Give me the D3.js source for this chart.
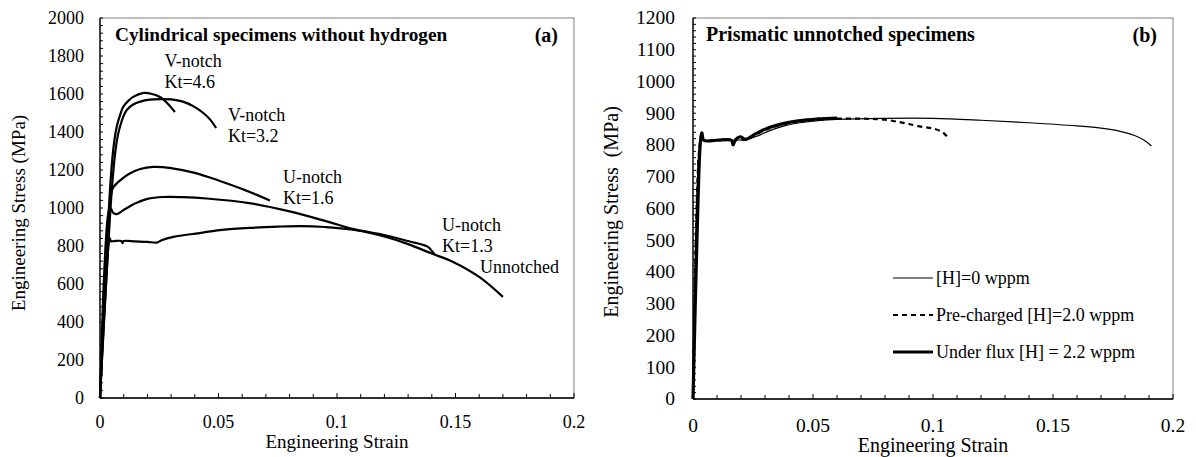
<!DOCTYPE html>
<html>
<head>
<meta charset="utf-8">
<script src="https://cdn.jsdelivr.net/npm/d3@7"></script>
<style>
  html, body { margin: 0; padding: 0; background: #fff; }
  svg { display: block; }
  svg text { font-family: "Liberation Serif", "Times New Roman", "DejaVu Serif", serif; fill: #000; }
</style>
</head>
<body>
<svg id="chart" width="1196" height="457" font-family="Liberation Serif, serif"></svg>
<script>
// ---- panel (a): cylindrical specimens without hydrogen ----
const vKt46Strain = [0, 0.0045, 0.006, 0.0071, 0.0085, 0.0098, 0.012, 0.014, 0.018, 0.022, 0.0253, 0.0285, 0.0316];
const vKt46Stress = [0, 1150, 1350, 1430, 1490, 1532, 1565, 1585, 1605, 1600, 1584, 1550, 1505];

const vKt32Strain = [0, 0.005, 0.0065, 0.0075, 0.0084, 0.0098, 0.0113, 0.014, 0.017, 0.021, 0.0253, 0.030, 0.035, 0.0395, 0.0436, 0.0465, 0.049];
const vKt32Stress = [0, 1100, 1300, 1380, 1426, 1480, 1516, 1545, 1560, 1570, 1573, 1572, 1560, 1535, 1500, 1465, 1421];

const uKt16Strain = [0, 0.0048, 0.0056, 0.008, 0.012, 0.017, 0.0224, 0.03, 0.04, 0.05, 0.06, 0.0717];
const uKt16Stress = [0, 1080, 1108, 1140, 1178, 1205, 1216, 1210, 1185, 1145, 1100, 1040];

const uKt13Strain = [0, 0.0038, 0.0045, 0.0055, 0.0071, 0.01, 0.015, 0.02, 0.0267, 0.035, 0.045, 0.063, 0.08, 0.095, 0.108, 0.12, 0.13, 0.138, 0.1395, 0.1412];
const uKt13Stress = [0, 990, 1000, 975, 968, 990, 1025, 1048, 1058, 1057, 1050, 1026, 982, 932, 886, 858, 826, 798, 782, 756];

const unnotchedStrain = [0, 0.0042, 0.0046, 0.006, 0.009, 0.0095, 0.01, 0.015, 0.02, 0.024, 0.026, 0.031, 0.042, 0.0506, 0.063, 0.075, 0.085, 0.095, 0.108, 0.12, 0.13, 0.14, 0.149, 0.16, 0.17];
const unnotchedStress = [0, 840, 825, 826, 826, 815, 826, 824, 822, 818, 830, 848, 868, 884, 895, 902, 905, 900, 884, 850, 810, 760, 716, 637, 532];

const curveLabelsA = [
  { lines: ["V-notch", "Kt=4.6"], strain: 0.0272, stress: 1740 },
  { lines: ["V-notch", "Kt=3.2"], strain: 0.054, stress: 1460 },
  { lines: ["U-notch", "Kt=1.6"], strain: 0.0772, stress: 1130 },
  { lines: ["U-notch", "Kt=1.3"], strain: 0.1443, stress: 880 },
];
const unnotchedLabel = { text: "Unnotched", strain: 0.1603, stress: 660 };

const xTicksA = [0, 0.05, 0.1, 0.15, 0.2];
const yTicksA = [0, 200, 400, 600, 800, 1000, 1200, 1400, 1600, 1800, 2000];

// ---- panel (b): prismatic unnotched specimens ----
const h0Strain = [0, 0.0025, 0.0037, 0.0045, 0.01, 0.016, 0.0167, 0.018, 0.022, 0.026, 0.031, 0.038, 0.0446, 0.052, 0.06, 0.08, 0.1, 0.12, 0.14, 0.16, 0.17, 0.178, 0.184, 0.188, 0.191];
const h0Stress = [0, 780, 835, 815, 815, 814, 808, 815, 816, 826, 842, 860, 870, 877, 881, 884, 884, 878, 870, 860, 853, 843, 830, 815, 797];

const preStrain = [0, 0.0025, 0.0037, 0.0045, 0.01, 0.016, 0.0167, 0.018, 0.022, 0.026, 0.031, 0.038, 0.0446, 0.052, 0.06, 0.07, 0.075, 0.08, 0.086, 0.09, 0.095, 0.1, 0.104, 0.106];
const preStress = [0, 780, 835, 815, 815, 815, 802, 815, 818, 832, 850, 866, 875, 880, 883, 883, 882, 880, 872, 866, 858, 852, 840, 825];

const fluxStrain = [0, 0.002, 0.003, 0.0037, 0.0045, 0.01, 0.016, 0.0167, 0.0175, 0.0196, 0.022, 0.026, 0.031, 0.038, 0.0446, 0.052, 0.06];
const fluxStress = [0, 600, 800, 838, 815, 815, 815, 800, 815, 826, 818, 835, 853, 868, 877, 882, 885];

const legendLabelsB = ["[H]=0 wppm", "Pre-charged [H]=2.0 wppm", "Under flux [H] = 2.2 wppm"];

const xTicksB = [0, 0.05, 0.1, 0.15, 0.2];
const yTicksB = [0, 100, 200, 300, 400, 500, 600, 700, 800, 900, 1000, 1100, 1200];

const SERIF = "'Liberation Serif', 'Times New Roman', serif";
const zip = (xs, ys) => xs.map((x, i) => [x, ys[i]]);

const svg = d3.select("#chart");
svg.append("rect").attr("width", 1196).attr("height", 457).attr("fill", "#fff");

function txt(sel) {
  return sel.append("text").attr("font-family", SERIF).style("font-family", SERIF);
}

function drawPanel(opts) {
  const { left, right, top, bottom, yMax, yMinorStep, tickFont, titleFont } = opts;
  const x = d3.scaleLinear().domain([0, 0.2]).range([left, right]);
  const y = d3.scaleLinear().domain([0, yMax]).range([bottom, top]);
  const g = svg.append("g");

  // frame
  g.append("rect")
    .attr("x", left).attr("y", top)
    .attr("width", right - left).attr("height", bottom - top)
    .attr("fill", "none").attr("stroke", "#7f7f7f").attr("stroke-width", 1);

  // minor + major ticks (inward)
  const xMinor = d3.range(0, 0.2001, 0.01);
  const yMinor = d3.range(0, yMax + 0.1, yMinorStep);
  const ticks = g.append("g").attr("stroke", "#000").attr("stroke-width", 1);
  xMinor.forEach(v => {
    const major = Math.abs(v / 0.05 - Math.round(v / 0.05)) < 1e-6;
    ticks.append("line")
      .attr("x1", x(v)).attr("x2", x(v))
      .attr("y1", bottom).attr("y2", bottom - (major ? 5 : 4));
  });
  yMinor.forEach(v => {
    ticks.append("line")
      .attr("x1", left).attr("x2", left + 3)
      .attr("y1", y(v)).attr("y2", y(v));
  });
  // bottom and left axis lines
  g.append("line").attr("x1", left).attr("x2", right).attr("y1", bottom).attr("y2", bottom)
    .attr("stroke", "#000").attr("stroke-width", 1.3);
  g.append("line").attr("x1", left).attr("x2", left).attr("y1", top).attr("y2", bottom)
    .attr("stroke", "#000").attr("stroke-width", 1.3);

  // tick labels
  opts.xTicks.forEach(d => {
    txt(g).attr("x", x(d)).attr("y", bottom + opts.xLabelDy)
      .attr("text-anchor", "middle").style("font-size", tickFont + "px")
      .text(d3.format("")(d));
  });
  opts.yTicks.forEach(d => {
    txt(g).attr("x", left - opts.yLabelDx).attr("y", y(d) + tickFont * 0.33)
      .attr("text-anchor", "end").style("font-size", tickFont + "px")
      .text(d);
  });

  // axis titles
  txt(g).attr("x", (left + right) / 2).attr("y", opts.xTitleY)
    .attr("text-anchor", "middle").style("font-size", titleFont + "px")
    .text("Engineering Strain");
  txt(g).attr("transform", `translate(${opts.yTitleX},${opts.yTitleMid}) rotate(-90)`)
    .attr("text-anchor", "middle").style("font-size", titleFont + "px")
    .style("white-space", "pre")
    .text(opts.yTitle);

  // panel heading and tag
  txt(g).attr("x", left + opts.headDx).attr("y", top + 23)
    .style("font-size", opts.headFont + "px").style("font-weight", "bold")
    .text(opts.heading);
  txt(g).attr("x", right - 16).attr("y", top + 24)
    .attr("text-anchor", "end")
    .style("font-size", "20px").style("font-weight", "bold")
    .text(opts.tag);

  return { x, y, g };
}

// panel (a)
const A = drawPanel({
  left: 100, right: 574, top: 18, bottom: 398, yMax: 2000, yMinorStep: 40,
  tickFont: 18, titleFont: 19, xTicks: xTicksA, yTicks: yTicksA,
  xLabelDy: 30, yLabelDx: 16, xTitleY: 448, yTitleX: 25, yTitleMid: 213,
  yTitle: "Engineering Stress (MPa)",
  heading: "Cylindrical specimens without hydrogen", headDx: 15, headFont: 19.3, tag: "(a)",
});
const lineA = d3.line().x(d => A.x(d[0])).y(d => A.y(d[1])).curve(d3.curveCatmullRom.alpha(0.5));
[
  zip(unnotchedStrain, unnotchedStress),
  zip(uKt13Strain, uKt13Stress),
  zip(uKt16Strain, uKt16Stress),
  zip(vKt32Strain, vKt32Stress),
  zip(vKt46Strain, vKt46Stress),
].forEach(pts => {
  A.g.append("path").attr("d", lineA(pts))
    .attr("fill", "none").attr("stroke", "#000").attr("stroke-width", 2.2)
    .attr("stroke-linejoin", "round");
});
curveLabelsA.forEach(l => {
  const t = txt(A.g).style("font-size", "18px");
  l.lines.forEach((s, i) => {
    t.append("tspan").attr("x", A.x(l.strain)).attr("y", A.y(l.stress) + i * 21).text(s);
  });
});
txt(A.g)
  .attr("x", A.x(unnotchedLabel.strain)).attr("y", A.y(unnotchedLabel.stress))
  .style("font-size", "18px").text(unnotchedLabel.text);

// panel (b)
const B = drawPanel({
  left: 693, right: 1173, top: 18, bottom: 399, yMax: 1200, yMinorStep: 20,
  tickFont: 19.5, titleFont: 20, xTicks: xTicksB, yTicks: yTicksB,
  xLabelDy: 33, yLabelDx: 18, xTitleY: 452, yTitleX: 618, yTitleMid: 212,
  yTitle: "Engineering Stress  (MPa)",
  heading: "Prismatic unnotched specimens", headDx: 13, headFont: 20, tag: "(b)",
});
const lineB = d3.line().x(d => B.x(d[0])).y(d => B.y(d[1])).curve(d3.curveCatmullRom.alpha(0.5));
const stylesB = [
  { w: 1.2, dash: null },
  { w: 2.2, dash: "5,4" },
  { w: 3.2, dash: null },
];
[
  zip(h0Strain, h0Stress),
  zip(preStrain, preStress),
  zip(fluxStrain, fluxStress),
].forEach((pts, i) => {
  B.g.append("path").attr("d", lineB(pts))
    .attr("fill", "none").attr("stroke", "#000")
    .attr("stroke-width", stylesB[i].w)
    .attr("stroke-dasharray", stylesB[i].dash)
    .attr("stroke-linejoin", "round");
});

// legend
const legend = B.g.append("g").attr("transform", "translate(893,278)");
legendLabelsB.forEach((label, i) => {
  const yy = i * 37;
  legend.append("line")
    .attr("x1", 0).attr("x2", 40).attr("y1", yy).attr("y2", yy)
    .attr("stroke", "#000").attr("stroke-width", stylesB[i].w)
    .attr("stroke-dasharray", stylesB[i].dash);
  txt(legend)
    .attr("x", 43).attr("y", yy + 6)
    .style("font-size", "18px").text(label);
});
</script>
</body>
</html>
